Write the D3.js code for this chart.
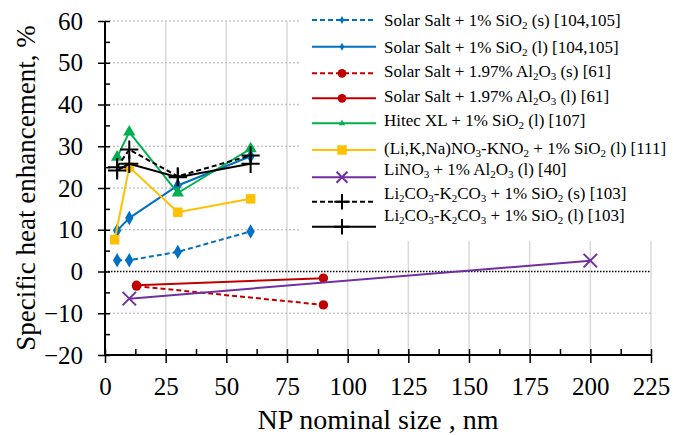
<!DOCTYPE html>
<html>
<head>
<meta charset="utf-8">
<script src="https://cdn.jsdelivr.net/npm/d3@7"></script>
<style>
    body { margin: 0; background: #fff; }
    svg { display: block; }
    svg text { font-family: "Liberation Serif", "DejaVu Serif", serif; fill: #000; }
</style>
</head>
<body>
<div id="chart"></div>
<script>
(function () {

    'use strict';

    // < chart data >

    var xTickValues = [0, 25, 50, 75, 100, 125, 150, 175, 200, 225];
    var yTickValues = [-20, -10, 0, 10, 20, 30, 40, 50, 60];

    var sizesSiO2 = [5, 10, 30, 60];
    var sizesYellow = [4, 10, 30, 60];
    var sizesAl2O3 = [13, 90];
    var sizesLiNO3 = [10, 200];

    var solarSaltSiO2Solid = [2.7, 2.7, 4.7, 9.6];
    var solarSaltSiO2Liquid = [9.8, 12.8, 20.6, 27.6];
    var solarSaltAl2O3Solid = [-3.5, -8.0];
    var solarSaltAl2O3Liquid = [-3.3, -1.6];
    var hitecXLLiquid = [27.4, 33.4, 18.8, 29.4];
    var liKNaLiquid = [7.6, 25.0, 14.2, 17.4];
    var liNO3Liquid = [-6.5, 2.6];
    var carbonateSolid = [25.0, 29.2, 22.8, 27.8];
    var carbonateLiquid = [24.2, 25.8, 22.6, 25.8];

    // "_" marks a subscript digit
    var seriesNames = [
        'Solar Salt + 1% SiO_2 (s) [104,105]',
        'Solar Salt + 1% SiO_2 (l) [104,105]',
        'Solar Salt + 1.97% Al_2O_3 (s) [61]',
        'Solar Salt + 1.97% Al_2O_3 (l) [61]',
        'Hitec XL + 1% SiO_2 (l) [107]',
        '(Li,K,Na)NO_3-KNO_2 + 1% SiO_2 (l) [111]',
        'LiNO_3 + 1% Al_2O_3 (l) [40]',
        'Li_2CO_3-K_2CO_3 + 1% SiO_2 (s) [103]',
        'Li_2CO_3-K_2CO_3 + 1% SiO_2 (l) [103]'
    ];

    var seriesX = [sizesSiO2, sizesSiO2, sizesAl2O3, sizesAl2O3, sizesSiO2, sizesYellow, sizesLiNO3, sizesSiO2, sizesSiO2];
    var seriesY = [solarSaltSiO2Solid, solarSaltSiO2Liquid, solarSaltAl2O3Solid, solarSaltAl2O3Liquid,
        hitecXLLiquid, liKNaLiquid, liNO3Liquid, carbonateSolid, carbonateLiquid];

    // < styles >

    var styles = [
        {color: '#0070C0', dash: '5,3', marker: 'diamond', size: 60, legendSize: 18},
        {color: '#0070C0', dash: null, marker: 'diamond', size: 60, legendSize: 18},
        {color: '#C00000', dash: '5,3', marker: 'circle', size: 70, legendSize: 60},
        {color: '#C00000', dash: null, marker: 'circle', size: 70, legendSize: 60},
        {color: '#00B050', dash: null, marker: 'triangle', size: 65, legendSize: 18},
        {color: '#FFC000', dash: null, marker: 'square', size: 90, legendSize: 90},
        {color: '#7030A0', dash: null, marker: 'x', size: 120, legendSize: 80},
        {color: '#000000', dash: '5,3', marker: 'plus', size: 110, legendSize: 80},
        {color: '#000000', dash: null, marker: 'plus', size: 110, legendSize: 80}
    ];

    var symbolTypes = {
        diamond: d3.symbolDiamond,
        circle: d3.symbolCircle,
        triangle: d3.symbolTriangle,
        square: d3.symbolSquare,
        x: d3.symbolTimes,
        plus: d3.symbolPlus
    };

    var width = 673;
    var height = 435;

    var plotLeft = 105;
    var plotRight = 651;
    var plotTop = 21;
    var plotBottom = 355;

    var svg = d3.select('#chart')
        .append('svg')
            .attr('width', width)
            .attr('height', height);

    var x = d3.scaleLinear().domain([0, 225]).range([plotLeft, plotRight]);
    var y = d3.scaleLinear().domain([-20, 60]).range([plotBottom, plotTop]);

    // < gridlines >

    svg.append('g')
        .selectAll('line')
        .data(xTickValues.slice(1))
        .enter()
        .append('line')
            .attr('x1', function (d) { return x(d); })
            .attr('x2', function (d) { return x(d); })
            .attr('y1', y(60))
            .attr('y2', y(-20))
            .attr('stroke', '#d9d9d9')
            .attr('stroke-width', 1.5);

    svg.append('g')
        .selectAll('line')
        .data(yTickValues.filter(function (d) { return d !== -20; }))
        .enter()
        .append('line')
            .attr('x1', x(0))
            .attr('x2', x(225))
            .attr('y1', function (d) { return y(d); })
            .attr('y2', function (d) { return y(d); })
            .attr('stroke', function (d) { return d === 0 ? '#000' : '#c8c8c8'; })
            .attr('stroke-width', 1.5)
            .attr('stroke-dasharray', function (d) { return d === 0 ? '1.5,1.5' : '2,2'; });

    // < axes >

    var axisStyle = function (g) {
        g.selectAll('text').attr('font-size', 25);
        g.selectAll('line').attr('stroke', '#000').attr('stroke-width', 1.5);
        g.select('.domain').remove();
    };

    svg.append('g')
        .attr('transform', 'translate(' + plotLeft + ',0)')
        .call(d3.axisLeft(y).tickValues(d3.range(-20, 61, 5)).tickSize(-5).tickFormat(''))
        .call(axisStyle);

    svg.append('g')
        .attr('transform', 'translate(' + plotLeft + ',0)')
        .call(d3.axisLeft(y).tickValues(yTickValues).tickSize(7).tickPadding(15))
        .call(axisStyle);

    svg.append('g')
        .attr('transform', 'translate(0,' + plotBottom + ')')
        .call(d3.axisBottom(x).tickValues(d3.range(0, 226, 12.5)).tickSize(-6).tickFormat(''))
        .call(axisStyle);

    svg.append('g')
        .attr('transform', 'translate(0,' + plotBottom + ')')
        .call(d3.axisBottom(x).tickValues(xTickValues).tickSize(8).tickPadding(14))
        .call(axisStyle);

    svg.append('line')
        .attr('x1', plotLeft).attr('x2', plotLeft)
        .attr('y1', plotTop).attr('y2', plotBottom)
        .attr('stroke', '#000').attr('stroke-width', 2);

    svg.append('line')
        .attr('x1', plotLeft).attr('x2', plotRight)
        .attr('y1', plotBottom).attr('y2', plotBottom)
        .attr('stroke', '#000').attr('stroke-width', 2);

    // < axis titles >

    svg.append('text')
        .attr('x', (plotLeft + plotRight) / 2)
        .attr('y', 429)
        .attr('text-anchor', 'middle')
        .attr('font-size', 28)
        .text('NP nominal size , nm');

    svg.append('text')
        .attr('transform', 'translate(35,' + ((plotTop + plotBottom) / 2) + ') rotate(-90)')
        .attr('text-anchor', 'middle')
        .attr('font-size', 27)
        .text('Specific heat enhancement, %');

    // < legend >

    svg.append('rect')
        .attr('x', 300)
        .attr('y', 0)
        .attr('width', width - 300)
        .attr('height', 241)
        .attr('fill', '#fff');

    var legendLineY = [20, 46.7, 73.3, 98.3, 123.3, 150, 177.3, 201.7, 226.7];
    var legendTextY = [20, 46.7, 71, 95.7, 120, 148, 169, 193.3, 215];

    var drawMarker = function (g, style, cx, cy, size) {
        var isStroke = style.marker === 'x' || style.marker === 'plus';
        g.append('path')
            .attr('d', d3.symbol().type(symbolTypes[style.marker]).size(size))
            .attr('transform', 'translate(' + cx + ',' + cy + ')')
            .attr('fill', isStroke ? 'none' : style.color)
            .attr('stroke', isStroke ? style.color : 'none')
            .attr('stroke-width', isStroke ? 2 : 0);
    };

    var addLabel = function (textElem, label) {
        var parts = label.split(/_(\d)/);
        parts.forEach(function (part, i) {
            if (!part) { return; }
            var isSub = i % 2 === 1;
            textElem.append('tspan')
                .attr('font-size', isSub ? 11 : 17)
                .attr('dy', isSub ? 3 : (i > 1 ? -3 : 0))
                .text(part);
        });
    };

    seriesNames.forEach(function (name, i) {

        var style = styles[i];
        var g = svg.append('g');

        g.append('line')
            .attr('x1', 312)
            .attr('x2', 376)
            .attr('y1', legendLineY[i])
            .attr('y2', legendLineY[i])
            .attr('stroke', style.color)
            .attr('stroke-width', 2)
            .attr('stroke-dasharray', style.dash);

        drawMarker(g, style, 342, legendLineY[i], style.legendSize);

        var t = g.append('text')
            .attr('x', 384)
            .attr('y', legendTextY[i] + 6);

        addLabel(t, name);
    });

    // < series >

    var line = d3.line()
        .x(function (d) { return x(d[0]); })
        .y(function (d) { return y(d[1]); });

    seriesNames.forEach(function (name, i) {

        var style = styles[i];
        var points = d3.zip(seriesX[i], seriesY[i]);
        var g = svg.append('g');

        g.append('path')
            .datum(points)
            .attr('d', line)
            .attr('fill', 'none')
            .attr('stroke', style.color)
            .attr('stroke-width', 2)
            .attr('stroke-dasharray', style.dash);

        points.forEach(function (p) {
            drawMarker(g, style, x(p[0]), y(p[1]), style.size);
        });
    });

}());
</script>
</body>
</html>
